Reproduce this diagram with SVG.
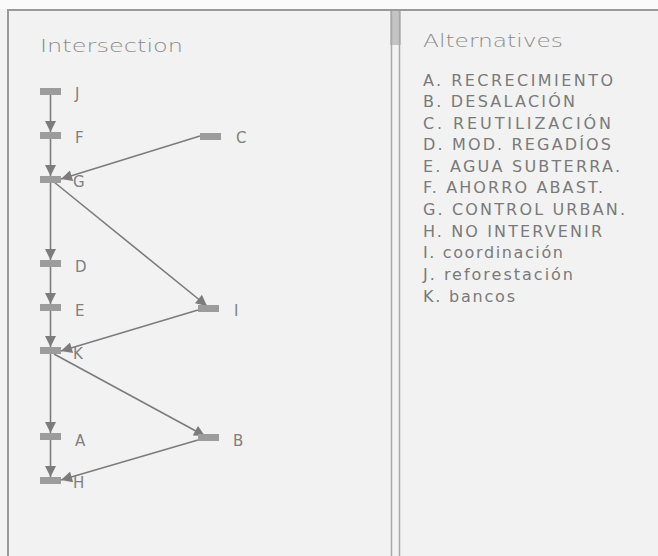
<svg xmlns="http://www.w3.org/2000/svg" width="658" height="556" viewBox="0 0 658 556">
  <style>
    .bg { fill: #f2f2f2; }
    .frame { stroke: #9a9a9a; stroke-width: 2; fill: none; }
    .div { stroke: #a8a8a8; stroke-width: 1.5; fill: none; }
    .bar { fill: #9c9c9c; }
    .edge { stroke: #7c7c7c; stroke-width: 1.6; fill: none; marker-end: url(#arr); }
    .title { font-family: "DejaVu Sans", Verdana, sans-serif; font-size: 18px; font-weight: 200; fill: #8c8c8c; }
    .lbl { font-family: "DejaVu Sans", Verdana, sans-serif; font-size: 15px; fill: #808080; }
    .item { font-family: "DejaVu Sans", Verdana, sans-serif; font-size: 16px; fill: #7a7a7a; }
  </style>
  <defs>
    <marker id="arr" viewBox="0 0 10 10" refX="10" refY="5" markerWidth="12" markerHeight="11" markerUnits="userSpaceOnUse" orient="auto">
      <path d="M0,0 L10,5 L0,10 Z" fill="#7c7c7c"/>
    </marker>
  </defs>
  <rect class="bg" x="0" y="0" width="658" height="556"/>
  <rect x="0" y="0" width="658" height="9" fill="#fafafa"/>
  <path class="frame" d="M8,556 V10 H658"/>
  <rect x="390" y="11" width="11" height="34" fill="#c4c4c4"/>
  <path class="div" d="M391.5,11 V556 M399.5,11 V556"/>

  <text class="title" x="40" y="52" textLength="143" lengthAdjust="spacingAndGlyphs">Intersection</text>
  <text class="title" x="423" y="47" textLength="140" lengthAdjust="spacingAndGlyphs">Alternatives</text>

  <g id="connectors">
    <line class="edge" x1="50.5" y1="95" x2="50.5" y2="132"/>
    <line class="edge" x1="50.5" y1="139" x2="50.5" y2="176"/>
    <line class="edge" x1="200" y1="136" x2="61" y2="179"/>
    <line class="edge" x1="50.5" y1="183" x2="50.5" y2="260"/>
    <line class="edge" x1="54" y1="182" x2="207" y2="306"/>
    <line class="edge" x1="50.5" y1="267" x2="50.5" y2="304"/>
    <line class="edge" x1="50.5" y1="311" x2="50.5" y2="347"/>
    <line class="edge" x1="198" y1="310" x2="61" y2="351"/>
    <line class="edge" x1="50.5" y1="354" x2="50.5" y2="433"/>
    <line class="edge" x1="54" y1="354" x2="205" y2="436"/>
    <line class="edge" x1="50.5" y1="440" x2="50.5" y2="477"/>
    <line class="edge" x1="198" y1="440" x2="61" y2="480"/>
  </g>

  <g id="node-J"><rect class="bar" x="40" y="88" width="21" height="7"/><text class="lbl" x="75" y="99">J</text></g>
  <g id="node-F"><rect class="bar" x="40" y="132" width="21" height="7"/><text class="lbl" x="75" y="143">F</text></g>
  <g id="node-C"><rect class="bar" x="200" y="133" width="21" height="7"/><text class="lbl" x="236" y="143">C</text></g>
  <g id="node-G"><rect class="bar" x="40" y="176" width="21" height="7"/><text class="lbl" x="73" y="187">G</text></g>
  <g id="node-D"><rect class="bar" x="40" y="260" width="21" height="7"/><text class="lbl" x="75" y="272">D</text></g>
  <g id="node-E"><rect class="bar" x="40" y="304" width="21" height="7"/><text class="lbl" x="75" y="316">E</text></g>
  <g id="node-I"><rect class="bar" x="198" y="305" width="21" height="7"/><text class="lbl" x="234" y="316">I</text></g>
  <g id="node-K"><rect class="bar" x="40" y="347" width="21" height="7"/><text class="lbl" x="73" y="359">K</text></g>
  <g id="node-A"><rect class="bar" x="40" y="433" width="21" height="7"/><text class="lbl" x="75" y="446">A</text></g>
  <g id="node-B"><rect class="bar" x="198" y="434" width="21" height="7"/><text class="lbl" x="233" y="446">B</text></g>
  <g id="node-H"><rect class="bar" x="40" y="477" width="21" height="7"/><text class="lbl" x="73" y="488">H</text></g>

  <g id="alternatives">
    <text class="item" x="423" y="86" textLength="190" lengthAdjust="spacing">A. RECRECIMIENTO</text>
    <text class="item" x="423" y="107" textLength="152" lengthAdjust="spacing">B. DESALACIÓN</text>
    <text class="item" x="423" y="129" textLength="188" lengthAdjust="spacing">C. REUTILIZACIÓN</text>
    <text class="item" x="423" y="150" textLength="188" lengthAdjust="spacing">D. MOD. REGADÍOS</text>
    <text class="item" x="423" y="172" textLength="197" lengthAdjust="spacing">E. AGUA SUBTERRA.</text>
    <text class="item" x="423" y="193" textLength="180" lengthAdjust="spacing">F. AHORRO ABAST.</text>
    <text class="item" x="423" y="215" textLength="202" lengthAdjust="spacing">G. CONTROL URBAN.</text>
    <text class="item" x="423" y="237" textLength="179" lengthAdjust="spacing">H. NO INTERVENIR</text>
    <text class="item" x="423" y="258" textLength="140" lengthAdjust="spacing">I. coordinación</text>
    <text class="item" x="423" y="280" textLength="150" lengthAdjust="spacing">J. reforestación</text>
    <text class="item" x="423" y="302" textLength="92" lengthAdjust="spacing">K. bancos</text>
  </g>
</svg>
